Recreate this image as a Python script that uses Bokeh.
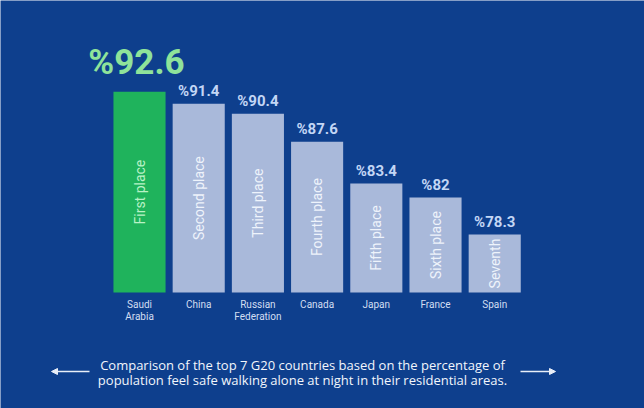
import math
from bokeh.plotting import figure
from bokeh.models import ColumnDataSource, Range1d, Label, Arrow, NormalHead
from bokeh.core.properties import value
from bokeh.embed import file_html
from bokeh.resources import INLINE

countries = ["Saudi\nArabia", "China", "Russian\nFederation", "Canada", "Japan", "France", "Spain"]
values = [92.6, 91.4, 90.4, 87.6, 83.4, 82.0, 78.3]
value_labels = ["%92.6", "%91.4", "%90.4", "%87.6", "%83.4", "%82", "%78.3"]
places = ["First place", "Second place", "Third place", "Fourth place",
          "Fifth place", "Sixth place", "Seventh"]
caption_lines = ["Comparison of the top 7 G20 countries based on the percentage of",
                 "population feel safe walking alone at night in their residential areas."]

BASE = 72.5
BG = "#0e3f8d"
GREEN = "#1fb35c"
GREY = "#a9b9da"

idx = list(range(len(values)))
colors = [GREEN] + [GREY] * (len(values) - 1)
mids = [(BASE + v) / 2 for v in values]
place_colors = ["#b8f2c6"] + ["#eef3fb"] * (len(values) - 1)

src = ColumnDataSource(dict(x=idx, top=values, color=colors, label=value_labels,
                            place=places, mid=mids, pcol=place_colors,
                            country=countries, base=[BASE] * len(values)))

p = figure(width=644, height=408, output_backend="svg", toolbar_location=None,
           x_range=Range1d(-2.348, 8.53), y_range=Range1d(60.89, 101.73),
           min_border=0, background_fill_color=BG, border_fill_color=BG,
           outline_line_color=None)
p.axis.visible = False
p.grid.visible = False

p.vbar(x="x", top="top", bottom=BASE, width=0.88, fill_color="color",
       line_color=None, source=src)

# value labels
first = ColumnDataSource(dict(x=idx[:1], y=values[:1], t=value_labels[:1]))
rest = ColumnDataSource(dict(x=idx[1:], y=values[1:], t=value_labels[1:]))
p.text(x="x", y="y", text="t", source=first, text_align="center",
       text_baseline="bottom", y_offset=-9, x_offset=-3, text_font=value("Roboto"),
       text_font_style="bold", text_font_size="35px", text_color="#8fe39a")
p.text(x="x", y="y", text="t", source=rest, text_align="center",
       text_baseline="bottom", y_offset=-4, text_font=value("Roboto"),
       text_font_style="bold", text_font_size="15px", text_color="#c3d6f5")

# rotated place labels
p.text(x="x", y="mid", text="place", source=src, angle=math.pi / 2,
       text_align="center", text_baseline="middle", text_font=value("Roboto"),
       text_font_size="14px", text_color="pcol")

# country labels
p.text(x="x", y="base", text="country", source=src, text_align="center",
       text_baseline="top", y_offset=6, text_font=value("Roboto"),
       text_font_size="10px", text_color="#d3def2", text_line_height=1.15)

# caption
for line, ys in zip(caption_lines, [44, 29]):
    p.add_layout(Label(x=302, y=ys, x_units="screen", y_units="screen", text=line,
                       text_align="center", text_baseline="middle",
                       text_font="Open Sans", text_font_size="13px",
                       text_color="#f2f6fc"))

head = dict(size=6, fill_color="#e8eef8", line_color="#e8eef8")
p.add_layout(Arrow(x_start=89, y_start=37, x_end=51, y_end=37,
                   start_units="screen", end_units="screen",
                   line_color="#e8eef8", line_width=1.5, end=NormalHead(**head)))
p.add_layout(Arrow(x_start=520, y_start=37, x_end=555, y_end=37,
                   start_units="screen", end_units="screen",
                   line_color="#e8eef8", line_width=1.5, end=NormalHead(**head)))

open("out.html", "w").write(file_html(p, INLINE))
